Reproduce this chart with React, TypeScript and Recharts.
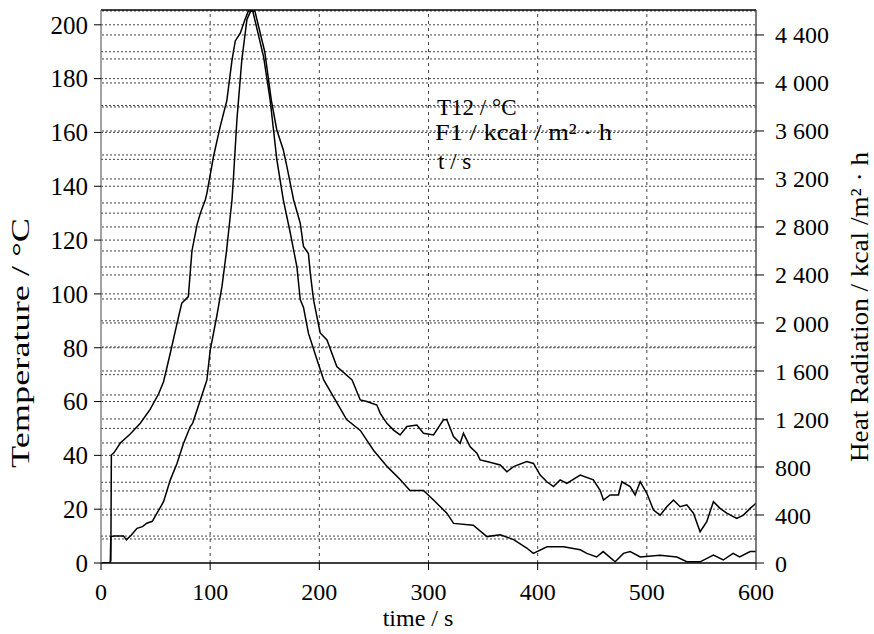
import React from "react";
import {
  LineChart,
  Line,
  XAxis,
  YAxis,
  ReferenceLine,
} from "recharts";

// T12 temperature (°C)
const tempTime = [
  0, 8.5, 9, 12, 20.7, 23.3, 28, 33, 38, 42, 47, 51.3, 57.3, 63.5, 69.6, 75.6,
  81.8, 84, 91, 97, 100, 106, 110.8, 115, 120, 121.4, 124.5, 129, 133.7, 137,
  141, 150, 156, 161, 167, 170.3, 176.4, 182.5, 185.5, 190, 191.7, 194.7, 200.8,
  207, 216, 230, 237.5, 243.6, 252.7, 255.8, 261.9, 268, 274, 280.2, 289.4,
  295.4, 304.6, 313.7, 316.8, 322.9, 329, 332, 338.2, 344.3, 347.3, 353.5, 365.7,
  371.8, 377.9, 390, 396.2, 402.3, 408.4, 414.5, 420.6, 426.7, 439, 451, 457.2,
  460.3, 466.4, 474, 477.1, 484.7, 489.3, 493.9, 500, 506.1, 512.2, 518.3, 524.4,
  530.5, 536.6, 542.7, 548.8, 554.9, 561, 567.1, 573.2, 582.4, 588.5, 594.6, 600,
];
const tempValue = [
  0, 0, 9.8, 10, 10, 8.6, 10.5, 12.9, 13.5, 14.8, 15.5, 18.5, 22.8, 30.9, 37,
  44.5, 50.7, 52, 60.6, 68, 79, 91.6, 102.7, 116, 135, 143.6, 164.7, 187, 202,
  205, 205, 190, 172, 161, 153.5, 147.3, 135, 126.3, 117.6, 115, 107.7, 97.8,
  85.5, 82.9, 73, 68, 60.6, 60, 58.7, 55.6, 51.9, 49.4, 47.6, 50.7, 51.3, 48.2,
  47.6, 53.2, 53.2, 47, 44.5, 48.2, 43.2, 40.8, 38.3, 37.7, 36.4, 33.9, 35.8,
  37.7, 37, 32.7, 30.2, 28.4, 30.9, 29.6, 32.7, 30.9, 27, 23.4, 25.3, 25.3, 30.2,
  28.4, 25.3, 30.2, 25.9, 19.7, 17.8, 20.9, 23.4, 20.9, 21.6, 18.5, 11.6, 15.4,
  22.8, 20.3, 18.5, 16.6, 17.8, 20.3, 22.2,
];

// F1 heat radiation (kcal/m²·h)
const radTime = [
  0, 8, 9, 9.5, 12, 17.7, 26.8, 36, 45, 52.8, 57.3, 63.5, 69.6, 74, 80, 83.3, 88,
  91, 95.5, 97, 103, 109, 115.3, 120, 123, 127.6, 132, 135, 139, 149, 155, 158,
  161, 167, 173.4, 179.5, 182.5, 185.5, 190, 197.8, 204, 213, 225, 237.5, 249.6,
  262, 274, 283, 295.4, 304.6, 316.8, 323, 341, 353.5, 365.7, 378, 390, 396,
  408.5, 423.7, 439, 445, 454, 460, 471, 478.6, 484.7, 494, 512, 527.5, 536.6,
  548.8, 561, 570, 579, 585, 594.6, 600,
];
const radValue = [
  0, 0, 20, 900, 920, 1000, 1075, 1165, 1280, 1410, 1510, 1750, 1995, 2165, 2220,
  2600, 2820, 2915, 3025, 3080, 3385, 3630, 3855, 4190, 4350, 4415, 4530, 4600,
  4600, 4215, 3855, 3610, 3365, 3025, 2750, 2465, 2195, 2130, 1915, 1695, 1525,
  1385, 1195, 1105, 940, 805, 695, 605, 605, 525, 415, 330, 315, 220, 235, 195,
  125, 80, 135, 135, 110, 80, 50, 95, 10, 80, 95, 50, 65, 50, 10, 10, 65, 25, 80,
  50, 95, 95,
];

const timeTicks = [0, 100, 200, 300, 400, 500, 600];
const tempTicks = [0, 20, 40, 60, 80, 100, 120, 140, 160, 180, 200];
const radTicks = [0, 400, 800, 1200, 1600, 2000, 2400, 2800, 3200, 3600, 4000, 4400];

// dotted grid: every 10 °C and every 200 kcal, every 100 s
const tempGrid = [10, 20, 30, 40, 50, 60, 70, 80, 90, 100, 110, 120, 130, 140, 150, 160, 170, 180, 190, 200];
const radGrid = [200, 400, 600, 800, 1000, 1200, 1400, 1600, 1800, 2000, 2200, 2400, 2600, 2800, 3000, 3200, 3400, 3600, 3800, 4000, 4200, 4400, 4600];
const timeGrid = [100, 200, 300, 400, 500];

const tempMax = 205.5;
const radMax = 4608;

const temperatureData = tempTime.map((t, i) => ({ t, temperature: tempValue[i] }));
const radiationData = radTime.map((t, i) => ({ t, radiation: radValue[i] }));

const font = "Liberation Serif";
const ink = "#000";

const fmtRad = (v: number) =>
  v >= 1000 ? `${Math.floor(v / 1000)} ${String(v % 1000).padStart(3, "0")}` : String(v);

export default function App() {
  return (
    <div
      style={{
        position: "absolute",
        left: 0,
        top: 0,
        width: 874,
        height: 634,
        background: "#fff",
        fontFamily: font,
      }}
    >
      <LineChart
        width={874}
        height={634}
        margin={{ top: 10, right: 0, bottom: 0, left: 0 }}
        style={{ fontFamily: font }}
      >
        <XAxis
          dataKey="t"
          type="number"
          domain={[0, 600]}
          ticks={timeTicks}
          allowDataOverflow
          height={71}
          tickSize={7}
          tickMargin={13}
          tick={{ fontSize: 24, fill: ink, fontFamily: font }}
          axisLine={{ stroke: ink, strokeWidth: 1.6 }}
          tickLine={{ stroke: ink }}
        />
        <YAxis
          yAxisId="left"
          type="number"
          domain={[0, tempMax]}
          ticks={tempTicks}
          allowDataOverflow
          width={101}
          tickSize={7}
          tickMargin={6}
          tick={{ fontSize: 25, fill: ink, fontFamily: font }}
          axisLine={{ stroke: "#666", strokeWidth: 1.2 }}
          tickLine={{ stroke: ink }}
        />
        <YAxis
          yAxisId="right"
          orientation="right"
          type="number"
          domain={[0, radMax]}
          ticks={radTicks}
          allowDataOverflow
          width={118}
          tickSize={8}
          tickMargin={11}
          tickFormatter={fmtRad}
          tick={{ fontSize: 24, fill: ink, fontFamily: font }}
          axisLine={{ stroke: "#444", strokeWidth: 1.4 }}
          tickLine={{ stroke: ink }}
        />

        {tempGrid.map((v) => (
          <ReferenceLine key={`tg-${v}`} yAxisId="left" y={v} stroke="#444" strokeDasharray="2 2" />
        ))}
        {radGrid.map((v) => (
          <ReferenceLine key={`rg-${v}`} yAxisId="right" y={v} stroke="#444" strokeDasharray="2 2" />
        ))}
        {timeGrid.map((v) => (
          <ReferenceLine key={`xg-${v}`} yAxisId="left" x={v} stroke="#444" strokeDasharray="3 4" />
        ))}
        <ReferenceLine yAxisId="left" y={tempMax} stroke={ink} strokeWidth={1.4} />

        <Line
          yAxisId="left"
          data={temperatureData}
          dataKey="temperature"
          type="linear"
          stroke={ink}
          strokeWidth={1.5}
          dot={false}
          isAnimationActive={false}
        />
        <Line
          yAxisId="right"
          data={radiationData}
          dataKey="radiation"
          type="linear"
          stroke={ink}
          strokeWidth={1.5}
          dot={false}
          isAnimationActive={false}
        />
      </LineChart>

      <svg
        width={874}
        height={634}
        style={{ position: "absolute", left: 0, top: 0, pointerEvents: "none", fontFamily: font }}
        fill={ink}
      >
        <text x={29} y={343} fontSize={25} textAnchor="middle" textLength={250} lengthAdjust="spacingAndGlyphs" transform="rotate(-90 29 343)">
          Temperature / °C
        </text>
        <text x={868} y={307} fontSize={25} textAnchor="middle" textLength={310} lengthAdjust="spacingAndGlyphs" transform="rotate(-90 868 307)">
          Heat Radiation / kcal /m² · h
        </text>
        <text x={418} y={626} fontSize={24} textAnchor="middle">
          time / s
        </text>
        <text x={437} y={115} fontSize={23}>
          T12 / °C
        </text>
        <text x={435} y={140} fontSize={23} textLength={177} lengthAdjust="spacingAndGlyphs">
          F1 / kcal / m² · h
        </text>
        <text x={438} y={169} fontSize={23}>
          t / s
        </text>
      </svg>
    </div>
  );
}
